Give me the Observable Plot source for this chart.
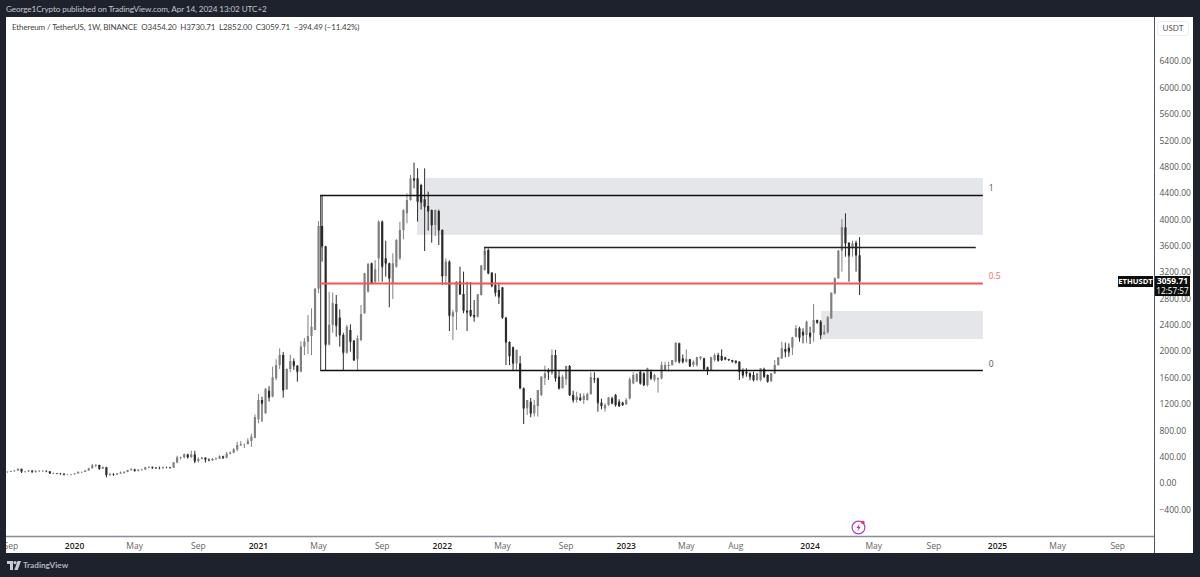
<!DOCTYPE html>
<html>
<head>
<meta charset="utf-8">
<script src="https://cdn.jsdelivr.net/npm/d3@7"></script>
<script src="https://cdn.jsdelivr.net/npm/@observablehq/plot@0.6"></script>
<style>
  html,body{margin:0;padding:0;width:1200px;height:577px;overflow:hidden;background:#1e222d;font-family:Lato,sans-serif;}
  #top{position:absolute;left:6px;top:3px;font-size:8.2px;letter-spacing:-0.12px;line-height:12px;color:#c3c6ce;white-space:nowrap;}
  #panel{position:absolute;left:6px;top:17px;width:1187px;height:536px;background:#fff;overflow:hidden;}
  #panel svg{display:block;}
  #legend{position:absolute;left:6px;top:4px;font-size:8px;letter-spacing:-0.12px;line-height:12px;color:#444;white-space:pre;}
  #unit{position:absolute;left:1151px;top:4px;width:32px;height:15px;box-sizing:border-box;border:1px solid #eceef2;border-radius:3px;font-size:8px;line-height:13px;text-align:center;color:#555;}
  .badge{position:absolute;background:#0d0d0d;color:#fff;font-weight:700;text-align:center;white-space:nowrap;font-family:"Open Sans",sans-serif;}
  #sym{left:1112px;top:259px;width:35px;height:11px;font-size:7.6px;line-height:11px;}
  #price{left:1149px;top:259px;width:35px;height:20px;font-size:8.4px;line-height:10px;}
  #price span{display:block;font-weight:400;font-size:8.2px;}
  #bolt{position:absolute;left:845px;top:502px;}
  #foot{position:absolute;left:7px;top:558px;height:14px;display:flex;align-items:center;gap:2px;color:#b2b5be;font-size:8.2px;font-weight:700;}
</style>
</head>
<body>
<div id="top">George1Crypto published on TradingView.com, Apr 14, 2024 13:02 UTC+2</div>
<div id="panel">
  <div id="legend">Ethereum / TetherUS, 1W, BINANCE  O3454.20  H3730.71  L2852.00  C3059.71  −394.49 (−11.42%)</div>
  <div id="unit">USDT</div>
  <div id="sym" class="badge">ETHUSDT</div>
  <div id="price" class="badge">3059.71<span>12:57:57</span></div>
  <svg id="bolt" width="16" height="16" viewBox="0 0 16 16">
    <circle cx="7.5" cy="8.5" r="6.4" fill="none" stroke="#a93fc4" stroke-width="1.2"/>
    <path d="M8.6 4.8 L5.4 9 H7.4 L6.6 12.2 L9.8 7.8 H7.8 Z" fill="#a93fc4"/>
    <circle cx="12" cy="3.4" r="1.7" fill="#f0333f"/>
  </svg>
</div>
<div id="foot">
  <svg width="14" height="9" viewBox="0 0 14 9"><path d="M0 0H6V9H3V3H0Z" fill="#c8cbd2"/><circle cx="8" cy="1.6" r="1.6" fill="#c8cbd2"/><path d="M10.5 0H14L10.8 9H7.3Z" fill="#c8cbd2"/></svg>
  <span>TradingView</span>
</div>
<script>
const firstWeek = Date.UTC(2019, 7, 26);
const opens = [168,172,181,189,215,173,176,189,172,182,184,185,178,151,151,147,142,132,134,135,146,167,168,189,223,265,274,218,238,124,132,125,144,158,170,197,207,186,200,205,238,245,233,228,225,240,239,232,311,386,395,433,395,433,335,365,385,355,345,365,368,405,385,445,460,510,575,590,590,640,685,970,1260,1060,1400,1310,1590,1790,1943,1420,1730,1850,1780,1690,2069,2145,2231,2322,2950,3900,3590,2100,2400,2716,2509,2246,1978,2322,2160,1877,2170,2575,2903,3333,3055,3409,3966,3409,3333,3030,3283,3409,3839,4092,4294,4623,4623,4522,4304,4203,4143,3915,4127,3839,3141,3359,2524,2590,3055,2868,2615,2625,2549,2524,2853,3232,3536,3192,3004,2929,2969,2509,2140,2060,1816,1816,1437,1133,1234,1057,1168,1335,1590,1715,1664,1942,1614,1437,1573,1775,1335,1260,1295,1260,1260,1351,1588,1588,1220,1133,1184,1285,1335,1234,1219,1195,1285,1512,1540,1689,1664,1487,1689,1568,1573,1588,1715,1775,1791,1841,2120,1892,1841,1877,1791,1791,1892,1892,1755,1715,1866,1942,1927,1905,1880,1866,1856,1841,1714,1689,1664,1639,1563,1563,1730,1639,1548,1664,1790,1891,2033,2053,2053,2220,2347,2296,2246,2281,2281,2473,2448,2256,2286,2498,2878,3105,3525,3879,3647,3561,3647,3454.20];
const highs = [175,185,190,223,217,182,197,197,197,193,197,190,180,160,152,153,148,135,138,148,180,175,190,230,290,290,278,252,246,155,150,150,175,175,200,227,217,212,215,245,253,250,240,250,245,250,245,320,415,400,450,445,490,490,390,395,390,375,380,390,420,415,470,480,530,625,635,600,680,750,1040,1350,1310,1437,1470,1765,1877,2043,1990,1740,1950,1890,1790,2150,2200,2549,2650,2950,3975,4372,3600,2900,2890,2853,2635,2280,2400,2408,2170,2240,2700,3190,3340,3345,3384,3985,3985,3677,3345,3485,3700,3966,4153,4395,4674,4861,4775,4540,4775,4421,4150,4150,4150,3850,3409,3380,2625,3065,3283,3207,3055,3050,2777,2868,3308,3586,3560,3200,3182,3040,2975,2520,2150,2070,2020,1927,1450,1260,1290,1260,1411,1614,1780,1740,2028,2020,1715,1640,1780,1790,1400,1385,1360,1360,1370,1680,1680,1600,1280,1210,1300,1310,1351,1270,1235,1290,1603,1680,1670,1700,1680,1750,1720,1660,1600,1840,1840,1840,1866,2130,2130,1950,2028,1885,1860,1917,1925,1900,1765,1917,1968,1975,2028,1915,1885,1870,1860,1850,1740,1740,1680,1690,1664,1740,1750,1650,1664,1866,1907,2144,2129,2119,2220,2397,2372,2347,2463,2372,2716,2480,2473,2397,2534,2888,3121,3535,4006,4092,3650,3677,3677,3730.71];
const lows = [162,165,173,186,152,165,172,160,155,175,178,175,140,135,143,139,116,123,125,133,143,152,165,187,222,240,208,215,86,110,120,125,140,140,165,190,180,175,195,195,225,215,220,216,220,235,230,232,300,355,370,370,378,300,310,360,310,335,335,355,365,370,375,435,450,480,560,530,585,550,680,905,930,1050,1235,1300,1560,1730,1295,1420,1680,1715,1538,1680,1940,1957,1940,2320,2880,3360,1715,2090,2280,2221,2069,1715,1960,1993,1856,1715,2150,2570,2890,3020,3030,3055,3055,3131,2666,2792,3270,3384,3697,3940,4284,4471,3966,4150,3520,3829,3647,3748,3611,3005,3005,2306,2170,2322,2858,2575,2306,2524,2448,2510,2843,3222,3172,2970,2830,2716,2499,1790,1790,1715,1715,1437,895,1032,996,1007,1007,1320,1487,1563,1640,1538,1421,1437,1487,1320,1220,1220,1255,1200,1250,1335,1520,1082,1118,1082,1170,1205,1158,1160,1180,1185,1270,1500,1530,1500,1480,1465,1570,1540,1371,1570,1700,1690,1780,1830,1816,1816,1826,1760,1760,1765,1860,1725,1639,1700,1841,1855,1860,1870,1860,1840,1820,1563,1588,1613,1560,1540,1548,1540,1600,1537,1530,1654,1780,1881,1907,1917,1942,2210,2144,2119,2129,2109,2144,2425,2180,2246,2270,2490,2863,3100,3207,3434,3055,3434,3207,2852.00];
const closes = [172,181,189,215,173,176,189,172,182,184,185,178,151,151,147,142,132,134,135,146,167,168,189,223,265,274,218,238,124,132,125,144,158,170,197,207,186,200,205,238,245,233,228,225,240,239,232,311,386,395,433,395,433,335,365,385,355,345,365,368,405,385,445,460,510,575,590,590,640,703,1000,1260,1209,1430,1300,1604,1790,1943,1411,1730,1850,1780,1690,2069,2145,2231,2370,2950,3900,3590,2100,2400,2730,2390,2246,1978,2372,2144,1866,2195,2564,3182,3323,3030,3242,3966,3283,3333,3106,3333,3687,3839,4143,4294,4623,4598,4269,4259,4193,4127,3915,4143,3839,3141,3359,2539,2590,3055,2868,2615,2590,2539,2524,2863,3298,3520,3182,2994,2888,2827,2509,2140,1925,1816,2020,1437,1133,1260,1057,1184,1411,1614,1664,1680,1942,1588,1437,1614,1775,1335,1260,1310,1260,1320,1351,1603,1573,1220,1170,1184,1300,1209,1184,1168,1184,1260,1573,1639,1654,1512,1487,1740,1588,1639,1588,1791,1791,1791,1866,2129,1841,1841,1880,1775,1841,1907,1917,1725,1705,1907,1942,1856,1866,1877,1866,1841,1826,1689,1639,1664,1613,1563,1664,1740,1613,1537,1664,1790,1907,2043,1993,1993,2210,2347,2205,2246,2448,2220,2473,2433,2246,2296,2514,2888,3105,3525,3879,3636,3449,3636,3459,3059.71];

const priceTicks = [-400,0,400,800,1200,1600,2000,2400,2800,3200,3600,4000,4400,4800,5200,5600,6000,6400];
const yearLabels = [["2020",19],["2021",71],["2022",123],["2023",175],["2024",227],["2025",280]];
const monthLabels = [["Sep",1],["May",36],["Sep",54],["May",88],["Sep",106],["May",140],["Sep",158],["May",192],["Aug",206],["May",245],["Sep",262],["May",297],["Sep",314]];

// drawn levels: price, from-week, to-week
const fibHigh = 4370, fibMid = 3035, fibLow = 1715, swingLevel = 3580;
const fibFrom = 88.6, fibTo = 276, swingFrom = 135, swingTo = 274;
const zones = [
  {from:118.5, to:276, top:4630, bottom:4370},
  {from:116, to:276, top:4370, bottom:3765},
  {from:230.3, to:276, top:2610, bottom:2185}
];
const fibLabelWeek = 277.5;
const fibLabels = [{t:"1",v:4475,c:"#555"},{t:"0.5",v:3140,c:"#ef6a65"},{t:"0",v:1810,c:"#555"}];

const wk = i => new Date(firstWeek + i*7*864e5);
const candles = opens.map((o,i)=>({date:wk(i),o,h:highs[i],l:lows[i],c:closes[i],col:closes[i]>=o?"#808080":"#2b2b2b"}));
const lvl = (v,a,b)=>({a:wk(a),b:wk(b),v});
const domainX = [wk(-0.25), wk(324.4)];

const chart = Plot.plot({
  width:1187, height:536,
  marginLeft:0, marginRight:39, marginTop:0, marginBottom:17,
  style:{fontFamily:'"Open Sans",sans-serif',fontSize:"8.5px",background:"transparent",overflow:"hidden"},
  x:{type:"utc",domain:domainX,range:[0,1148]},
  y:{domain:[-804,7071],range:[519,0]},
  marks:[
    Plot.rect(zones,{x1:d=>wk(d.from),x2:d=>wk(d.to),y1:"bottom",y2:"top",fill:"#e5e6e9"}),
    Plot.ruleX(candles,{x:"date",y1:"l",y2:"h",stroke:"col",strokeWidth:1}),
    Plot.ruleX(candles,{x:"date",y1:"o",y2:"c",stroke:"col",strokeWidth:2.2}),
    Plot.dot(candles,{x:"date",y:"c",r:0.6,symbol:"square",fill:"col"}),
    Plot.ruleX([wk(fibFrom)],{y1:fibLow,y2:fibHigh,stroke:"#333",strokeWidth:1}),
    Plot.ruleX([wk(swingFrom)],{y1:swingLevel-120,y2:swingLevel,stroke:"#555",strokeWidth:1}),
    Plot.ruleY([lvl(fibHigh,fibFrom,fibTo)],{y:"v",x1:"a",x2:"b",stroke:"#111",strokeWidth:1.3}),
    Plot.ruleY([lvl(fibLow,fibFrom,fibTo)],{y:"v",x1:"a",x2:"b",stroke:"#111",strokeWidth:1.3}),
    Plot.ruleY([lvl(fibMid,fibFrom,fibTo)],{y:"v",x1:"a",x2:"b",stroke:"#f5564f",strokeWidth:2}),
    Plot.ruleY([lvl(swingLevel,swingFrom,swingTo)],{y:"v",x1:"a",x2:"b",stroke:"#222",strokeWidth:1.5}),
    Plot.text(fibLabels,{x:wk(fibLabelWeek),y:"v",text:"t",fill:"c",fontSize:8.5,textAnchor:"start"}),
    Plot.ruleX([domainX[1]],{stroke:"#50535c",strokeWidth:1,insetBottom:-17}),
    Plot.ruleY([-804],{stroke:"#8a8d94",strokeWidth:1.4}),
    Plot.axisY({anchor:"right",ticks:priceTicks,tickSize:0,tickPadding:5,label:null,
      tickFormat:d=>(d<0?"−":"")+Math.abs(d).toFixed(2),fill:"#555",fontSize:8.5}),
    Plot.axisX({anchor:"bottom",ticks:monthLabels.map(d=>wk(d[1])),tickSize:0,tickPadding:6,label:null,
      tickFormat:d=>monthLabels.find(m=>+wk(m[1])===+d)[0],fill:"#666",fontSize:8.5}),
    Plot.axisX({anchor:"bottom",ticks:yearLabels.map(d=>wk(d[1])),tickSize:0,tickPadding:6,label:null,
      tickFormat:d=>yearLabels.find(m=>+wk(m[1])===+d)[0],fill:"#222",fontWeight:600,fontSize:8.5})
  ]
});
document.getElementById("panel").prepend(chart);
</script>
</body>
</html>
